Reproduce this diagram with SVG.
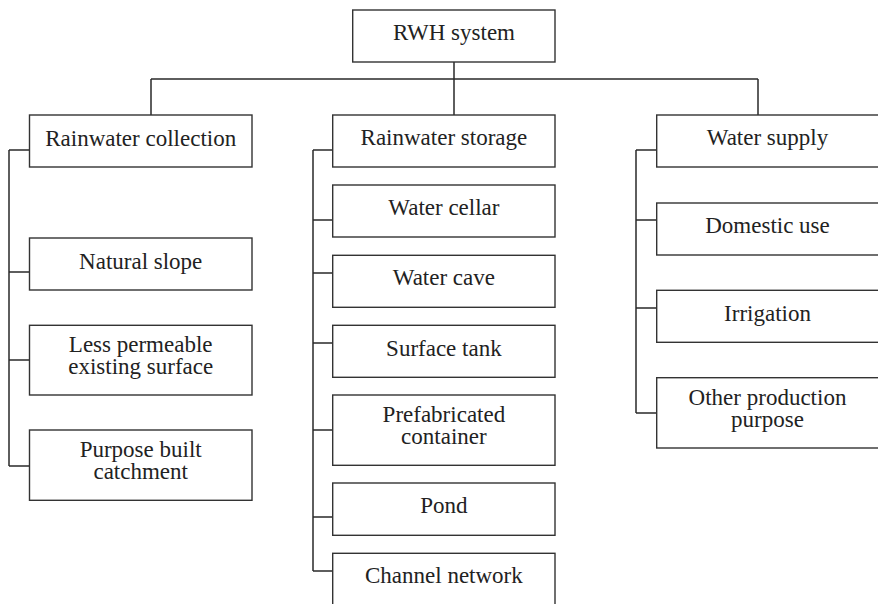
<svg xmlns="http://www.w3.org/2000/svg" width="878" height="604" viewBox="0 0 878 604">
<style>
rect{fill:#fff;stroke:#333;stroke-width:1.4}
.c{fill:none;stroke:#2a2a2a;stroke-width:1.5}
.t text{font-size:23px;fill:#222;text-anchor:middle}
</style>
<rect x="0" y="0" width="878" height="604" style="stroke:none"/>
<g id="connectors" class="c">
<path d="M454,62V115M151,79H758M151,79V115M758,79V115"/>
<path d="M9,150V466M9,150H29.5M9,272H29.5M9,360H29.5M9,466H29.5"/>
<path d="M313,150V571M313,150H333M313,220H333M313,273H333M313,343H333M313,430H333M313,517H333M313,571H333"/>
<path d="M636,150V413M636,150H657M636,220H657M636,308H657M636,413H657"/>
</g>
<g class="t" font-family="'Liberation Serif', 'DejaVu Serif', serif">
<g id="rwh"><rect x="352.7" y="10" width="202.3" height="52"/><text x="454" y="40">RWH system</text></g>
<g id="collection"><rect x="29.5" y="115" width="222.5" height="52"/><text x="140.7" y="146">Rainwater collection</text></g>
<g id="natural"><rect x="29.5" y="238" width="222.5" height="52"/><text x="140.7" y="268.5">Natural slope</text></g>
<g id="less"><rect x="29.5" y="325.3" width="222.5" height="69.7"/><text x="140.7" y="352">Less permeable</text><text x="140.7" y="373.5">existing surface</text></g>
<g id="purpose"><rect x="29.5" y="430" width="222.5" height="70.3"/><text x="140.7" y="456.5">Purpose built</text><text x="140.7" y="479.3">catchment</text></g>
<g id="storage"><rect x="332.7" y="115" width="222.3" height="52"/><text x="443.9" y="145">Rainwater storage</text></g>
<g id="cellar"><rect x="332.7" y="185" width="222.3" height="52"/><text x="443.9" y="215">Water cellar</text></g>
<g id="cave"><rect x="332.7" y="255.3" width="222.3" height="52"/><text x="443.9" y="285">Water cave</text></g>
<g id="tank"><rect x="332.7" y="325.3" width="222.3" height="52"/><text x="443.9" y="355.7">Surface tank</text></g>
<g id="prefab"><rect x="332.7" y="395" width="222.3" height="70.3"/><text x="443.9" y="421.7">Prefabricated</text><text x="443.9" y="444.3">container</text></g>
<g id="pond"><rect x="332.7" y="483" width="222.3" height="52.3"/><text x="443.9" y="512.7">Pond</text></g>
<g id="channel"><rect x="332.7" y="553.3" width="222.3" height="60"/><text x="443.9" y="583">Channel network</text></g>
<g id="supply"><rect x="656.7" y="115" width="230" height="52"/><text x="767.5" y="145">Water supply</text></g>
<g id="domestic"><rect x="656.7" y="203" width="230" height="52"/><text x="767.5" y="233.3">Domestic use</text></g>
<g id="irrigation"><rect x="656.7" y="290.3" width="230" height="52"/><text x="767.5" y="321">Irrigation</text></g>
<g id="other"><rect x="656.7" y="377.7" width="230" height="70.3"/><text x="767.5" y="405">Other production</text><text x="767.5" y="426.5">purpose</text></g>
</g>
</svg>
